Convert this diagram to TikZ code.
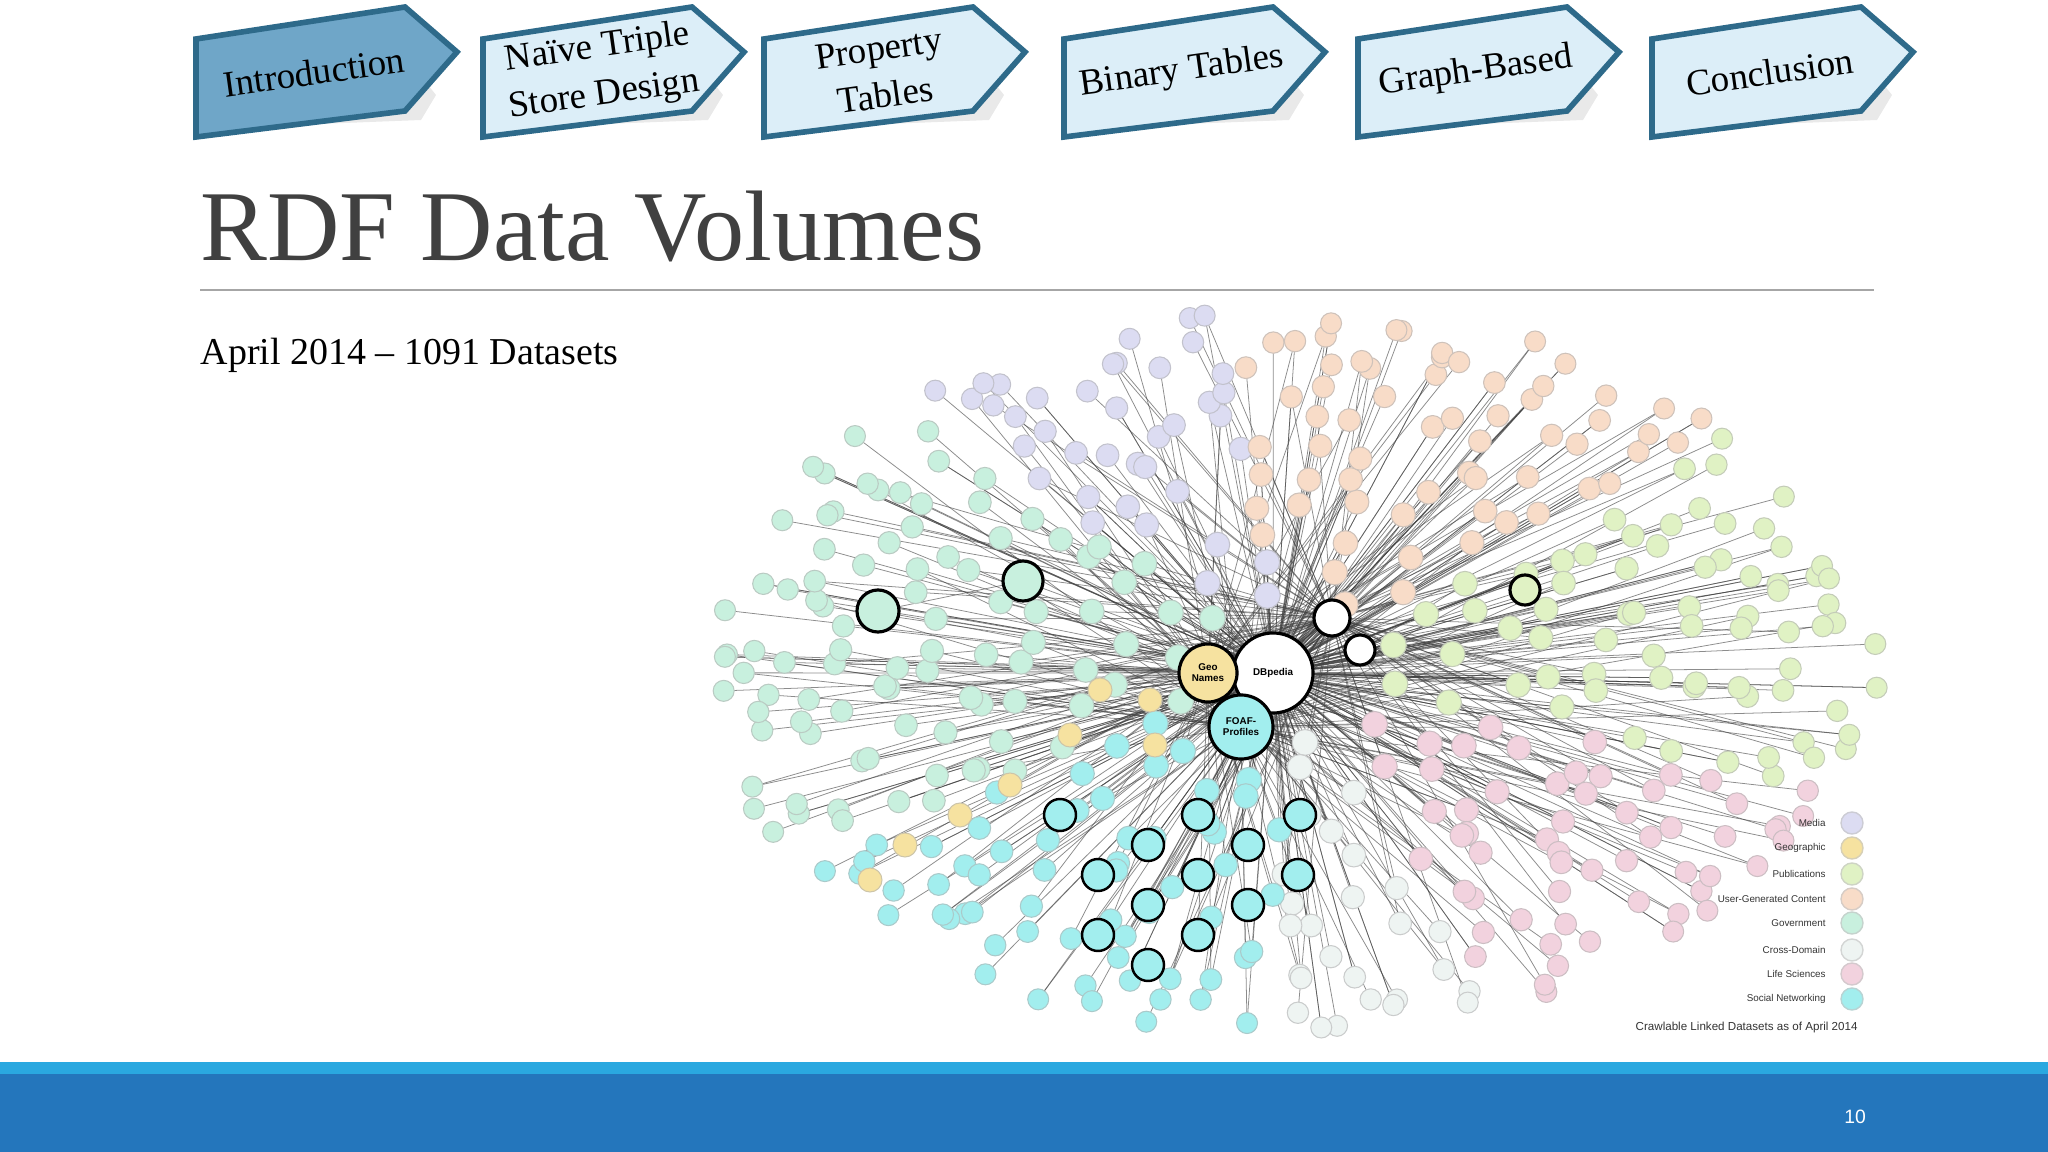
\documentclass[tikz,border=0pt]{standalone}
\usepackage{fontspec}
\setmainfont{Liberation Serif}
\setsansfont{Liberation Sans}
\usetikzlibrary{backgrounds}
\definecolor{cmedia}{HTML}{DCDCF2}
\definecolor{cgeo}{HTML}{F6E2A0}
\definecolor{cpub}{HTML}{E0F2C4}
\definecolor{cugc}{HTML}{F8DCC8}
\definecolor{cgov}{HTML}{C8F0DE}
\definecolor{ccross}{HTML}{EEF4F2}
\definecolor{clife}{HTML}{F2D2DE}
\definecolor{csoc}{HTML}{A2EEEE}
\definecolor{tabline}{HTML}{2E6A8A}
\definecolor{tabfill}{HTML}{DCEEF8}
\definecolor{tabdark}{HTML}{6FA6C8}
\definecolor{barlight}{HTML}{2AA8E0}
\definecolor{bardark}{HTML}{2476BC}
\definecolor{titlegray}{HTML}{404040}
\tikzset{
 tabshape/.style={draw=tabline,line width=1.6pt},
 tabtext/.style={font=\fontsize{10.5}{13.5}\selectfont,align=center,rotate=8,text=black},
 link/.style={black!75,line width=0.22pt,opacity=0.6},
 dnode/.style={line width=0.3pt},
 hub/.style={circle,draw=black,line width=0.9pt,font=\sffamily\fontsize{2.8}{3.1}\selectfont\bfseries,align=center,inner sep=0pt},
 legtext/.style={anchor=east,font=\sffamily\fontsize{2.8}{3}\selectfont,text=black!80},
}
\newcommand{\mytab}[4]{%
 \fill[black!25,opacity=0.35] (#1+15,#2+95) -- (#1+220,#2+70) -- (#1+240,#2+95) -- (#1+225,#2+120) -- (#1+20,#2+128) -- cycle;
 \filldraw[tabshape,fill=#3] (#1,#2+39) -- (#1+209,#2+7) -- (#1+261,#2+52) -- (#1+209,#2+111) -- (#1,#2+137) -- cycle;
 \node[tabtext] (t#1) at (#1+118,#2+72) {#4};}
\newcommand{\pickcol}[1]{%
 \ifdim#1pt<20pt \def\col{cpub}%
 \else\ifdim#1pt<70pt \def\col{clife}%
 \else\ifdim#1pt<92pt \def\col{ccross}%
 \else\ifdim#1pt<150pt \def\col{csoc}%
 \else\ifdim#1pt<230pt \def\col{cgov}%
 \else\ifdim#1pt<262pt \def\col{cmedia}%
 \else\ifdim#1pt<318pt \def\col{cugc}%
 \else\ifdim#1pt<380pt \def\col{cpub}%
 \else\ifdim#1pt<430pt \def\col{clife}%
 \else \def\col{ccross}\fi\fi\fi\fi\fi\fi\fi\fi\fi}
\def\rings{0.20/10,0.29/16,0.38/22,0.47/28,0.55/34,0.63/40,0.71/46,0.79/52,0.87/58,0.94/62,1.0/48}
\begin{document}
\begin{tikzpicture}[x=0.01cm,y=-0.01cm]
\useasboundingbox (0,0) rectangle (2048,1152);
% tabs
\mytab{196}{0}{tabdark}{Introduction}
\mytab{483}{0}{tabfill}{Naïve Triple\\Store Design}
\mytab{764}{0}{tabfill}{Property\\Tables}
\mytab{1064}{0}{tabfill}{Binary Tables}
\mytab{1358}{0}{tabfill}{Graph-Based}
\mytab{1652}{0}{tabfill}{Conclusion}
% title
\node[anchor=base west,inner sep=0pt,text=titlegray,font=\fontsize{28.5}{32}\selectfont] (title) at (200,261) {RDF Data Volumes};
\draw[black!35,line width=0.6pt] (200,290) -- (1874,290);
\node[anchor=west,inner sep=0pt,font=\fontsize{10.8}{12}\selectfont] (sub) at (200,355) {April 2014 – 1091 Datasets};
% hub positions
\coordinate (hdbp) at (1273,673);
\coordinate (hgeo) at (1208,673);
\coordinate (hfoaf) at (1241,727);
\coordinate (hw3c) at (1332,618);
\coordinate (hstat) at (878,611);
\coordinate (hrp) at (1023,581);
\pgfmathsetseed{7}
\begin{scope}[on background layer]
\foreach \r/\n in \rings{
 \foreach \i in {1,...,\n}{
  \pgfmathsetmacro{\a}{360/\n*\i + 6*rand + 53*\r}
  \pgfmathsetmacro{\rr}{\r+0.025*rand}
  \pgfmathsetmacro{\px}{1293+570*\rr*cos(\a)}
  \pgfmathsetmacro{\py}{672+355*\rr*sin(\a)}
  \pgfmathsetmacro{\h}{rand}
  \ifdim\h pt<-0.3pt \draw[link] (\px,\py) -- (hdbp);
  \else\ifdim\h pt<0.1pt \draw[link] (\px,\py) -- (hgeo);
  \else\ifdim\h pt<0.5pt \draw[link] (\px,\py) -- (hfoaf);
  \else \draw[link] (\px,\py) -- (hw3c); \fi\fi\fi
  \pgfmathsetmacro{\h}{rand}
  \ifdim\h pt>0.2pt \draw[link] (\px,\py) -- (hdbp);\fi
 }}
\draw[link] (hstat) -- (hgeo) (hrp) -- (hdbp) (hstat) -- (hrp);
\end{scope}
\pgfmathsetseed{7}
\foreach \r/\n in \rings{
 \foreach \i in {1,...,\n}{
  \pgfmathsetmacro{\a}{360/\n*\i + 6*rand + 53*\r}
  \pgfmathsetmacro{\rr}{\r+0.025*rand}
  \pgfmathsetmacro{\px}{1293+570*\rr*cos(\a)}
  \pgfmathsetmacro{\py}{672+355*\rr*sin(\a)}
  \pgfmathsetmacro{\h}{rand}\pgfmathsetmacro{\h}{rand}
  \pickcol{\a}
  \pgfmathsetmacro{\rad}{13.5-3*\r}
  \filldraw[dnode,fill=\col,draw=\col!70!black!60] (\px,\py) circle[radius=\rad];
 }}
% geographic inner nodes
\foreach \gx/\gy in {1100/690,1150/700,1070/735,1010/785,960/815,905/845,870/880,1155/745}{
 \filldraw[dnode,fill=cgeo,draw=cgeo!70!black!60] (\gx,\gy) circle[radius=12];}
% statistics cluster
\foreach \sx/\sy in {1148/845,1198/875,1148/905,1198/935,1248/905,1248/845,1098/875,1148/965,1098/935,1298/875,1198/815,1060/815,1300/815}{
 \filldraw[fill=csoc,draw=black,line width=0.7pt] (\sx,\sy) circle[radius=16];}
% hubs on top
\node[hub,fill=white,minimum size=0.8cm] (dbp) at (hdbp) {DBpedia};
\node[hub,fill=cgeo,minimum size=0.58cm] (geo) at (hgeo) {Geo\\Names};
\node[hub,fill=csoc,minimum size=0.64cm] (foaf) at (hfoaf) {FOAF-\\Profiles};
\node[hub,fill=cgov,minimum size=0.42cm] (stat) at (hstat) {};
\node[hub,fill=cgov,minimum size=0.4cm] (rp) at (hrp) {};
\node[hub,fill=white,minimum size=0.36cm] (w3c) at (hw3c) {};
\node[hub,fill=white,minimum size=0.3cm] (lov) at (1360,650) {};
\node[hub,fill=cpub,minimum size=0.3cm] (lcsh) at (1525,590) {};
% legend
\foreach \t/\c/\yy in {Media/cmedia/823,Geographic/cgeo/848,Publications/cpub/874,User-Generated Content/cugc/899,Government/cgov/923,Cross-Domain/ccross/950,Life Sciences/clife/974,Social Networking/csoc/999}{
 \filldraw[fill=\c,draw=\c!70!black!50,line width=0.4pt] (1852,\yy) circle[radius=11];
 \node[legtext] (l\yy) at (1838,\yy) {\t};}
\node[anchor=east,font=\sffamily\fontsize{3.3}{3.6}\selectfont,text=black!80] (cap) at (1870,1027) {Crawlable Linked Datasets as of April 2014};
% bottom bar
\fill[barlight] (0,1062) rectangle (2048,1074);
\fill[bardark] (0,1074) rectangle (2048,1152);
\node[font=\sffamily\fontsize{5.5}{6}\selectfont,text=white] (pg) at (1855,1117) {10};
\end{tikzpicture}
\end{document}
